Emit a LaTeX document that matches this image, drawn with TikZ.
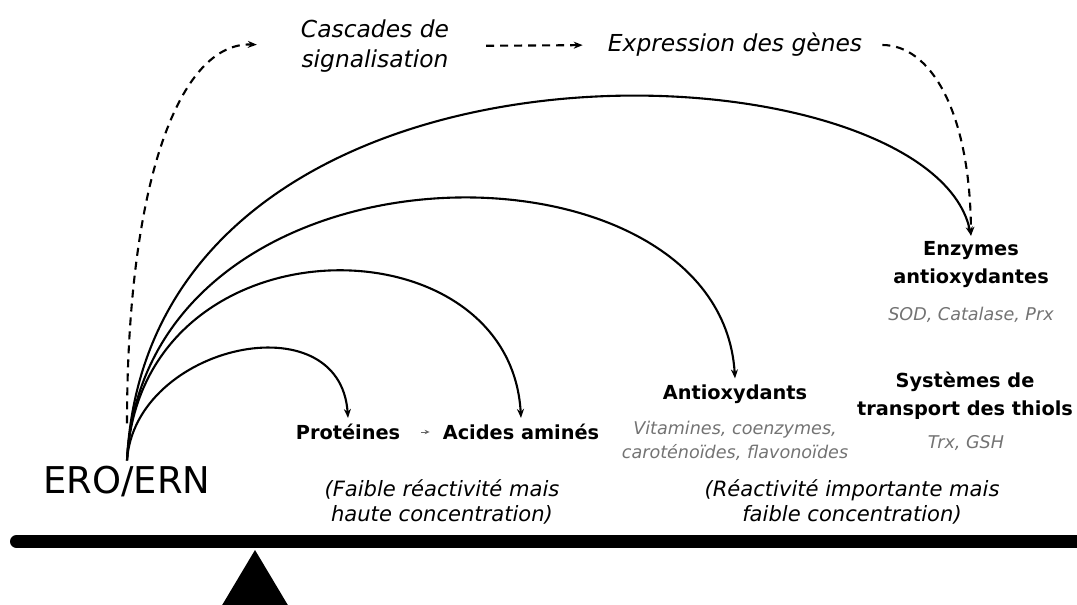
\documentclass[tikz,border=0pt]{standalone}
\usepackage{fontspec}
\setmainfont{DejaVu Sans}
\usetikzlibrary{arrows.meta}

\begin{document}
\begin{tikzpicture}[x=0.2mm, y=-0.2mm,
    boldtxt/.style={font=\fontsize{11}{15.9}\selectfont\bfseries, align=center},
    graytxt/.style={font=\fontsize{10}{13.7}\selectfont\itshape, text=black!55, align=center},
    notetxt/.style={font=\fontsize{12}{14.2}\selectfont\itshape, align=center},
    sigtxt/.style={font=\fontsize{13.3}{17}\selectfont\itshape, align=center},
    link/.style={line width=0.42mm, -{Stealth[length=1.8mm, width=1.4mm]}},
    dashlink/.style={link, dash pattern=on 1.6mm off 1.2mm}]

    % Frame
    \clip (0,0) rectangle (1077,604);

    % Source
    \node[font=\fontsize{21}{25}\selectfont] (ero) at (127,482) {ERO/ERN};

    % Targets
    \node[boldtxt] (prot) at (348,432) {Protéines};
    \node[boldtxt] (acid) at (521,432) {Acides aminés};
    \node[boldtxt] (antiox) at (735,394) {Antioxydants};
    \node[graytxt] (vit) at (735,441) {Vitamines, coenzymes,\\caroténoïdes, flavonoïdes};
    \node[boldtxt] (enz) at (971,265) {Enzymes\\antioxydantes};
    \node[graytxt] (sod) at (971,315) {SOD, Catalase, Prx};
    \node[boldtxt] (sys) at (965,396) {Systèmes de\\transport des thiols};
    \node[graytxt] (trx) at (966,443) {Trx, GSH};

    % Signalling
    \node[sigtxt] (casc) at (375,46) {Cascades de\\signalisation};
    \node[sigtxt] (expr) at (735,45) {Expression des gènes};

    % Notes
    \node[notetxt] (faible) at (442,502) {(Faible réactivité mais\\haute concentration)};
    \node[notetxt] (import) at (852,502) {(Réactivité importante mais\\faible concentration)};

    % Arcs from ERO/ERN
    \draw[link] (ero.north) .. controls (135,345) and (340,300) .. (prot.north);
    \draw[link] (ero.north) .. controls (140,215) and (510,216) .. (acid.north);
    \draw[link] (ero.north) .. controls (145,126) and (720,126) .. (antiox.north);
    \draw[link] (ero.north) .. controls (150,0) and (930,39) .. (enz.north);
    \draw[-{Stealth[length=1mm, width=0.9mm]}, black!60, shorten <=3mm, shorten >=1.4mm] (prot) -- (acid);

    % Gene expression path
    \draw[dashlink, shorten <=7.4mm, shorten >=7.6mm] (ero.north) .. controls (127,180) and (180,42) .. (casc.west);
    \draw[dashlink, shorten <=6.2mm, shorten >=3.8mm] (casc.east) -- (expr.west);
    \draw[dashlink, shorten <=2.8mm] (expr.east) .. controls (930,45) and (970,110) .. (enz.north);

    % Balance
    \draw[line width=2.6mm, line cap=round] (16.5,541.5) -- (1100,541.5);
    \fill (255,550) -- (292,612) -- (218,612) -- cycle;

\end{tikzpicture}
\end{document}
